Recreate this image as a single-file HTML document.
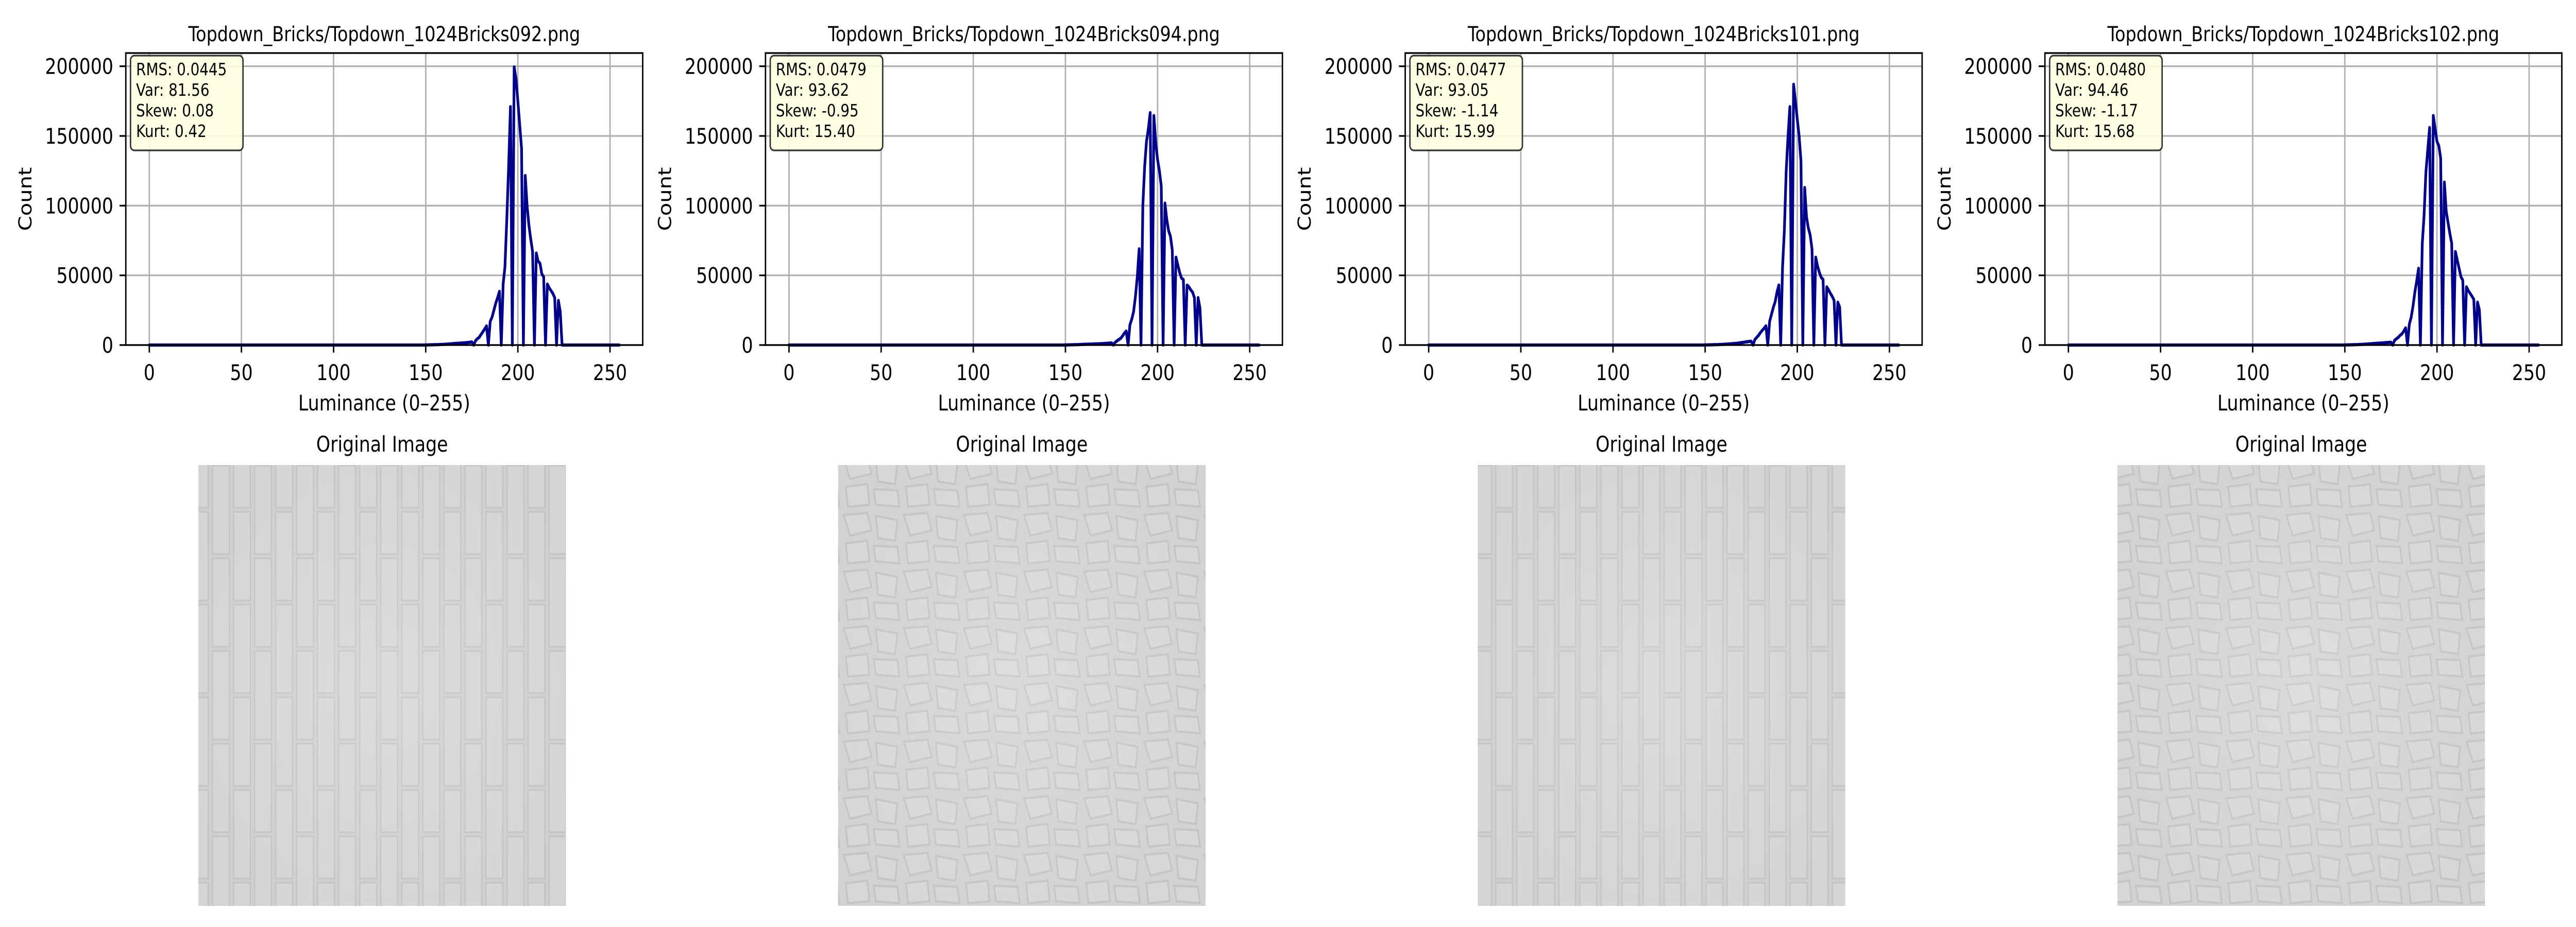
<!DOCTYPE html>
<html><head><meta charset="utf-8"><style>
html,body{margin:0;padding:0;background:#fff;width:100%;height:100%;overflow:hidden;}
svg{display:block;width:100vw;height:100vh;font-family:"DejaVu Sans","Liberation Sans",sans-serif;}
</style></head><body>
<svg id="fig" xmlns="http://www.w3.org/2000/svg" viewBox="0 0 6000 1800" preserveAspectRatio="none">
<defs>
<pattern id="bricksV" x="0" y="0" width="98" height="180" patternUnits="userSpaceOnUse">
<rect width="98" height="180" fill="#cfcfcf"/>
<rect x="5" y="4" width="39" height="172" fill="#d5d5d5" stroke="#c3c3c3" stroke-width="3"/>
<rect x="54" y="-86" width="39" height="172" fill="#d5d5d5" stroke="#c3c3c3" stroke-width="3"/>
<rect x="54" y="94" width="39" height="172" fill="#d5d5d5" stroke="#c3c3c3" stroke-width="3"/>
</pattern>
<pattern id="stones" x="0" y="0" width="140" height="110" patternUnits="userSpaceOnUse">
<rect width="140" height="110" fill="#d2d2d2"/>
<path d="M5 10 L60 6 L70 40 L20 50 Z M80 12 L130 20 L125 60 L85 55 Z M10 65 L60 60 L65 100 L15 104 Z M75 70 L130 72 L135 104 L80 100 Z" fill="#d7d7d7" stroke="#c4c4c4" stroke-width="4"/>
</pattern>
<radialGradient id="glow" cx="50%" cy="50%" r="60%">
<stop offset="0" stop-color="#ffffff" stop-opacity="0.18"/>
<stop offset="1" stop-color="#ffffff" stop-opacity="0"/>
</radialGradient>
</defs>
</svg>
<script>
const titles = ["Topdown_Bricks/Topdown_1024Bricks092.png","Topdown_Bricks/Topdown_1024Bricks094.png","Topdown_Bricks/Topdown_1024Bricks101.png","Topdown_Bricks/Topdown_1024Bricks102.png"];
const rmsVals = ["0.0445","0.0479","0.0477","0.0480"];
const varVals = ["81.56","93.62","93.05","94.46"];
const skewVals = ["0.08","-0.95","-1.14","-1.17"];
const kurtVals = ["0.42","15.40","15.99","15.68"];
const xTicks = [0,50,100,150,200,250];
const yTicks = [0,50000,100000,150000,200000];
const binStart = 150;
const counts1 = [100,120,150,180,200,250,300,350,400,450,500,600,700,800,900,1000,1100,1200,1300,1400,1500,1600,1700,1800,2000,
2200,0,3000,4500,5500,7500,9500,11500,13700,0,17000,20000,25000,30000,34000,38500,0,43700,56000,90000,128000,171000,0,199500,191000,175000,158000,141000,0,121600,100000,86000,76000,67000,0,66000,60000,58700,51000,49000,0,43700,41000,39000,37000,34000,0,32000,24000,0];
const counts2 = [100,120,150,180,200,250,300,350,400,450,500,550,600,650,700,750,800,850,900,950,1000,1100,1200,1300,1400,
1500,0,2000,3000,4000,4800,6500,8500,10000,0,14500,18500,24000,35000,49000,69000,0,100000,128000,146000,155000,166700,0,164600,145000,133000,125000,114000,0,101800,90000,82000,78000,68000,0,63000,57400,52000,48000,47000,0,43000,41700,39500,38000,34000,0,34000,26600,0];
const counts3 = [100,120,150,180,200,250,300,350,400,450,500,600,700,800,900,1000,1100,1200,1400,1600,1800,2000,2200,2400,2600,
2700,0,4000,5500,7000,8900,10500,12000,13700,0,17000,22000,27000,31000,38000,43000,0,56000,82000,125000,150000,171000,0,187000,175000,162000,150000,132000,0,113000,92000,84000,79000,69000,0,63000,56700,52000,48500,47000,0,41700,39500,37000,34800,32000,0,30700,27300,0];
const counts4 = [100,120,150,180,200,250,300,350,400,450,500,600,700,800,900,1000,1100,1200,1300,1400,1500,1600,1700,1800,1900,
2000,0,3400,4500,5500,7000,8000,10000,12300,0,15000,20000,28000,38000,46000,55000,0,72400,93000,124000,140000,156000,0,164600,155000,146000,143000,134000,0,116800,96000,88000,80000,73000,0,67000,61000,55000,49000,46400,0,41700,39000,37000,35000,32800,0,30700,25300,0];
const allCounts = [counts1,counts2,counts3,counts4];
const imgFills = ["url(#bricksV)","url(#stones)","url(#bricksV)","url(#stones)"];

const NS="http://www.w3.org/2000/svg";
const svg=document.getElementById('fig');
function mk(tag,attrs,parent,text){const e=document.createElementNS(NS,tag);for(const k in attrs)e.setAttribute(k,attrs[k]);if(text!==undefined)e.textContent=text;(parent||svg).appendChild(e);return e;}

const AX_W=1204, AX_T=103, AX_B=670, PITCH=1490, AX_L0=293;
const XMIN=-12.75, XMAX=267.75, YMAX=209475;

for(let c=0;c<4;c++){
  const L=AX_L0+c*PITCH, R=L+AX_W;
  const xs=v=>L+(v-XMIN)/(XMAX-XMIN)*AX_W;
  const ys=v=>AX_B-(v/YMAX)*(AX_B-AX_T);
  const g=mk('g',{});
  
  
  const t=mk('text',{x:(L+R)/2,y:80,'text-anchor':'middle','font-size':40,fill:'#000'},g,titles[c]);
  
  
  xTicks.forEach(v=>{const l=mk('line',{x1:xs(v),x2:xs(v),y1:AX_T,y2:AX_B,stroke:'#b0b0b0','stroke-width':3.3},g);
    
    });
  yTicks.forEach(v=>{const l=mk('line',{x1:L,x2:R,y1:ys(v),y2:ys(v),stroke:'#b0b0b0','stroke-width':3.3},g);
    
    });
  const full=[];for(let b=0;b<256;b++){const i=b-binStart;full.push(i>=0&&i<allCounts[c].length?allCounts[c][i]:0);}
  const pts=full.map((v,b)=>xs(b).toFixed(1)+','+ys(v).toFixed(1)).join(' ');
  const pl=mk('polyline',{points:pts,fill:'none',stroke:'#00008b','stroke-width':6.25,'stroke-linejoin':'round','stroke-linecap':'round'},g);
  
  
  const sp=mk('rect',{x:L,y:AX_T,width:AX_W,height:AX_B-AX_T,fill:'none',stroke:'#000','stroke-width':3.3},g);
  
  
  xTicks.forEach(v=>{mk('line',{x1:xs(v),x2:xs(v),y1:AX_B,y2:AX_B+14.6,stroke:'#000','stroke-width':3.3},g);
    const tl=mk('text',{x:xs(v),y:738,'text-anchor':'middle','font-size':41.7},g,String(v));
    
    });
  yTicks.forEach(v=>{mk('line',{x1:L-14.6,x2:L,y1:ys(v),y2:ys(v),stroke:'#000','stroke-width':3.3},g);
    const tl=mk('text',{x:L-29,y:ys(v)+15,'text-anchor':'end','font-size':41.7},g,String(v));
    
    });
  const xl=mk('text',{x:(L+R)/2,y:797,'text-anchor':'middle','font-size':41.7},g,'Luminance (0–255)');
  
  
  const yl=mk('text',{x:0,y:0,'text-anchor':'middle','font-size':41.7,transform:'translate('+(L-220)+','+((AX_T+AX_B)/2)+') rotate(-90)'},g,'Count');
  
  
  const bx=mk('rect',{x:L+11,y:108,width:262,height:184,rx:9,fill:'#ffffe0',stroke:'#333','stroke-width':3.3,'fill-opacity':0.9},g);
  
  
  const lines=['RMS: '+rmsVals[c],'Var: '+varVals[c],'Skew: '+skewVals[c],'Kurt: '+kurtVals[c]];
  lines.forEach((s,i)=>{const tx=mk('text',{x:L+24,y:146+i*40,'font-size':33.3},g,s);
    
    });
  const ig=mk('g',{});
  
  
  const IL=462+c*PITCH;
  const it=mk('text',{x:IL+428,y:877,'text-anchor':'middle','font-size':41.7},ig,'Original Image');
  
  
  const im=mk('rect',{x:IL,y:903,width:856,height:856,fill:imgFills[c]},ig);
  
  
  mk('rect',{x:IL,y:903,width:856,height:856,fill:'url(#glow)'},ig);
}
</script>
</body></html>
